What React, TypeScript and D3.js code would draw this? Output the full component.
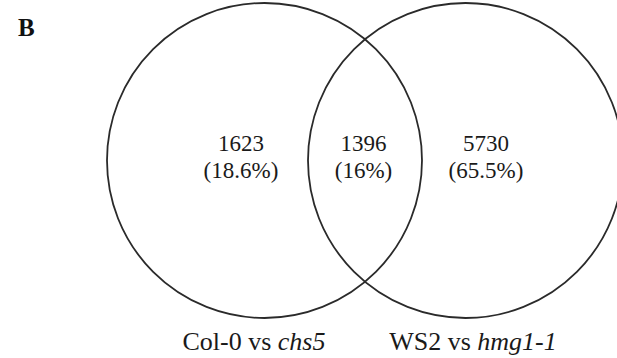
import { useEffect } from "react";
import * as d3 from "d3";

// Venn diagram — two comparison sets and their overlap
const W = 617;
const H = 358;

const setNames = ["Col-0 vs chs5", "WS2 vs hmg1-1"];
const setLabelPlain = ["Col-0 vs ", "WS2 vs "];
const setLabelItalic = ["chs5", "hmg1-1"];

const regions = ["left", "both", "right"];
const regionCounts = [1623, 1396, 5730];
const regionPercents = ["18.6%", "16%", "65.5%"];

const FONT = "'Liberation Serif', 'Times New Roman', serif";
const STROKE = "#2a2a2a";

export default function App() {
  useEffect(() => {
    document.body.style.margin = "0";
  }, []);

  // circle centres and radius
  const cx = d3.scalePoint<string>().domain(setNames).range([264.5, 465.5]);
  const cy = 160.5;
  const r = 157.5;

  // region label centres
  const rx = d3.scalePoint<string>().domain(regions).range([241, 486]);
  // set label centres
  const lx = d3.scalePoint<string>().domain(setNames).range([254, 473]);

  return (
    <svg width={W} height={H} style={{ display: "block", background: "#fff" }}>
      <text x={18} y={36} fontFamily={FONT} fontWeight="bold" fontSize={25} fill="#111">
        B
      </text>

      {setNames.map((s) => (
        <circle
          key={s}
          cx={cx(s)}
          cy={cy}
          r={r}
          fill="none"
          stroke={STROKE}
          strokeWidth={1.8}
        />
      ))}

      {regions.map((g, i) => (
        <g key={g} fontFamily={FONT} fontSize={23} fill="#1a1a1a" textAnchor="middle">
          <text x={rx(g)} y={151}>
            {regionCounts[i]}
          </text>
          <text x={rx(g)} y={178}>
            ({regionPercents[i]})
          </text>
        </g>
      ))}

      {setNames.map((s, i) => (
        <text
          key={s}
          x={lx(s)}
          y={350}
          fontFamily={FONT}
          fontSize={26}
          fill="#1a1a1a"
          textAnchor="middle"
        >
          {setLabelPlain[i]}
          <tspan fontStyle="italic">{setLabelItalic[i]}</tspan>
        </text>
      ))}
    </svg>
  );
}
